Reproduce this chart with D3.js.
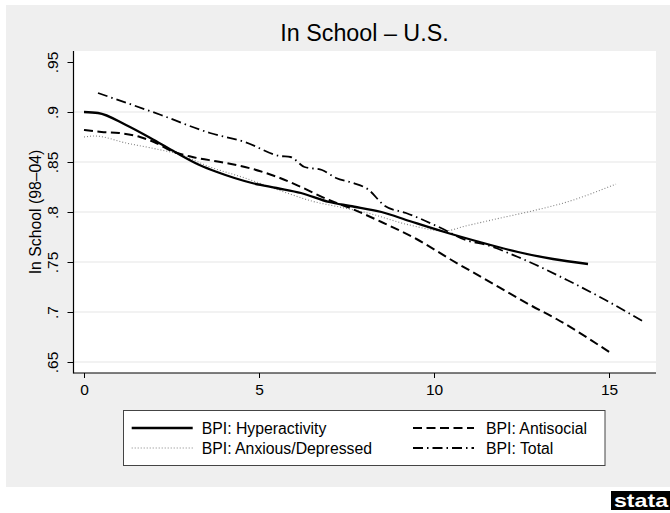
<!DOCTYPE html>
<html>
<head>
<meta charset="utf-8">
<script src="https://cdn.jsdelivr.net/npm/d3@7/dist/d3.min.js"></script>
<style>
  html, body { margin: 0; padding: 0; background: #ffffff; }
  svg { display: block; font-family: "Liberation Sans", Arial, sans-serif; }
</style>
</head>
<body>
<svg id="chart" width="670" height="513"></svg>
<script>
// ---- Data ----
const title = "In School \u2013 U.S.";
const yTitle = "In School (98\u201304)";
const xTicks = [0, 5, 10, 15];
const yTicks = [0.65, 0.7, 0.75, 0.8, 0.85, 0.9, 0.95];
const yTickLabels = [".65", ".7", ".75", ".8", ".85", ".9", ".95"];
const seriesNames = ["BPI: Hyperactivity", "BPI: Antisocial", "BPI: Anxious/Depressed", "BPI: Total"];

const hyperX = [0, 0.4, 1.2, 2, 2.6, 3.3, 3.8, 4.3, 4.8, 5.5, 6.2, 7, 7.6, 8.5, 9.3, 10.3, 11.2, 12.4, 13.4, 14.4];
const hyperY = [.900, .899, .887, .872, .860, .847, .840, .834, .829, .824, .819, .810, .806, .800, .791, .780, .771, .760, .753, .748];

const antiX = [0, 0.5, 1, 1.6, 2, 2.5, 3.1, 3.9, 4.6, 5.6, 6.2, 7, 7.6, 8.5, 9.5, 10.5, 11.4, 12.8, 13.5, 15.05];
const antiY = [.882, .880, .879, .875, .870, .861, .855, .850, .845, .834, .825, .812, .804, .790, .773, .752, .734, .706, .693, .659];

const anxX = [0, 0.3, 1.2, 2.2, 2.7, 3.6, 4.6, 5.8, 6.5, 7.3, 8.1, 9.3, 10.3, 10.9, 11.9, 12.8, 13.8, 15.2];
const anxY = [.875, .876, .869, .862, .858, .845, .834, .819, .811, .805, .799, .787, .781, .786, .794, .801, .810, .828];

const totX = [0.4, 2.2, 3.6, 4.6, 5.6, 5.9, 6.3, 6.8, 7.2, 7.7, 8.1, 8.6, 9.2, 10.2, 10.9, 11.5, 12.4, 13.8, 14.9, 16];
const totY = [.919, .897, .879, .870, .856, .855, .845, .842, .834, .829, .823, .806, .799, .784, .772, .767, .755, .732, .712, .690];

// ---- Layout ----
const svg = d3.select("#chart");
const plot = { left: 73.5, right: 656, top: 51, bottom: 373 };
const font = '"Liberation Sans", Arial, sans-serif';

// graph region background
svg.append("rect").attr("x", 6).attr("y", 5).attr("width", 664).attr("height", 482).attr("fill", "#efefef");
// plot region
svg.append("rect").attr("x", plot.left).attr("y", plot.top)
  .attr("width", plot.right - plot.left).attr("height", plot.bottom - plot.top).attr("fill", "#ffffff");

// scales: 0 at x=84, 35px per unit; .65 at y=362, 1000px per unit
const x = d3.scaleLinear().domain([0, 16]).range([84, 84 + 35 * 16]);
const y = d3.scaleLinear().domain([0.65, 0.95]).range([362, 62]);

// gridlines
svg.append("g").selectAll("line")
  .data(yTicks.filter(v => v < 0.93))
  .join("line")
  .attr("x1", plot.left).attr("x2", plot.right)
  .attr("y1", d => y(d)).attr("y2", d => y(d))
  .attr("stroke", "#e6e6e6").attr("stroke-width", 1.2);

// axes
const yAxis = d3.axisLeft(y).tickValues(yTicks).tickSize(6).tickFormat((d, i) => yTickLabels[i]);
const gy = svg.append("g").attr("transform", `translate(${plot.left},0)`).call(yAxis);
gy.select(".domain").remove();
gy.selectAll(".tick line").attr("stroke", "#000");
gy.selectAll(".tick text").remove();
gy.selectAll(".tick").append("text")
  .attr("transform", "translate(-16,0) rotate(-90)")
  .attr("text-anchor", "middle")
  .attr("fill", "#000")
  .style("font-size", "15.5px").style("font-family", font)
  .text((d, i) => yTickLabels[i]);

const xAxis = d3.axisBottom(x).tickValues(xTicks).tickSize(5).tickFormat(d3.format("d"));
const gx = svg.append("g").attr("transform", `translate(0,${plot.bottom})`).call(xAxis);
gx.select(".domain").remove();
gx.selectAll(".tick line").attr("stroke", "#000");
gx.selectAll(".tick text").attr("y", 0).attr("dy", 0)
  .attr("transform", "translate(0,22)")
  .attr("fill", "#000").style("font-size", "15.5px").style("font-family", font);

// axis lines
svg.append("line").attr("x1", plot.left).attr("x2", plot.left).attr("y1", plot.top).attr("y2", plot.bottom + 0.5)
  .attr("stroke", "#000").attr("stroke-width", 1.2);
svg.append("line").attr("x1", plot.left).attr("x2", plot.right).attr("y1", plot.bottom).attr("y2", plot.bottom)
  .attr("stroke", "#000").attr("stroke-width", 1.2);

// series
const series = [
  { name: seriesNames[0], xs: hyperX, ys: hyperY, color: "#000", width: 2.3, dash: null },
  { name: seriesNames[1], xs: antiX, ys: antiY, color: "#000", width: 2.0, dash: "9,4.5" },
  { name: seriesNames[2], xs: anxX, ys: anxY, color: "#808080", width: 1.1, dash: "1,2" },
  { name: seriesNames[3], xs: totX, ys: totY, color: "#000", width: 1.8, dash: "10,4,1.5,4" }
];

const line = d3.line().x(d => x(d[0])).y(d => y(d[1])).curve(d3.curveMonotoneX);
const drawOrder = [2, 3, 1, 0];
drawOrder.forEach(i => {
  const s = series[i];
  const pts = s.xs.map((v, k) => [v, s.ys[k]]);
  svg.append("path").datum(pts)
    .attr("d", line)
    .attr("fill", "none")
    .attr("stroke", s.color)
    .attr("stroke-width", s.width)
    .attr("stroke-dasharray", s.dash)
    .attr("stroke-linejoin", "round");
});

// title
svg.append("text").attr("x", 364.5).attr("y", 40.5).attr("text-anchor", "middle")
  .style("font-size", "23.3px").style("font-family", font).attr("fill", "#000").text(title);

// y title
svg.append("text").attr("transform", `translate(40.7,${(plot.top + plot.bottom) / 2}) rotate(-90)`)
  .attr("text-anchor", "middle").style("font-size", "15.8px").style("font-family", font)
  .attr("fill", "#000").text(yTitle);

// legend
const lg = svg.append("g");
lg.append("rect").attr("x", 123.5).attr("y", 410.5).attr("width", 481.5).attr("height", 55)
  .attr("fill", "#fff").attr("stroke", "#444").attr("stroke-width", 1);
const legPos = [
  { sx: 131.7, tx: 201.7, yl: 428 },
  { sx: 413, tx: 486, yl: 428 },
  { sx: 131.7, tx: 201.7, yl: 448 },
  { sx: 413, tx: 486, yl: 448 }
];
series.forEach((s, i) => {
  const p = legPos[i];
  lg.append("line").attr("x1", p.sx).attr("x2", p.sx + 61).attr("y1", p.yl).attr("y2", p.yl)
    .attr("stroke", s.color).attr("stroke-width", s.width).attr("stroke-dasharray", s.dash);
  lg.append("text").attr("x", p.tx).attr("y", p.yl + 5.5)
    .style("font-size", "15.8px").style("font-family", font).attr("fill", "#000").text(s.name);
});

// stata logo
svg.append("rect").attr("x", 611).attr("y", 491).attr("width", 59).attr("height", 19).attr("fill", "#000");
svg.append("text").attr("x", 614).attr("y", 506.5).attr("textLength", 54).attr("lengthAdjust", "spacingAndGlyphs")
  .style("font-size", "19px").style("font-weight", "bold").style("font-family", font)
  .attr("fill", "#fff").text("stata");
</script>
</body>
</html>
